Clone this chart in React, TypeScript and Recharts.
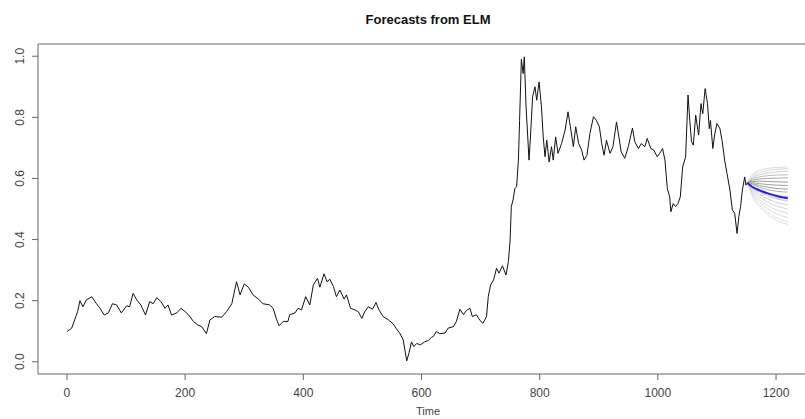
import { LineChart, Line, XAxis, YAxis, ReferenceArea } from "recharts";

// observed series (time index, value)
const histTime = [
  0, 8, 13, 18, 22, 27, 33, 42, 50, 56, 63, 70, 77, 84, 92, 101, 106, 112, 118, 125,
  133, 140, 146, 152, 159, 166, 171, 177, 186, 193, 200, 206, 214, 221, 228, 236, 242, 250, 262, 270,
  279, 287, 293, 300, 307, 315, 324, 332, 343, 349, 355, 359, 366, 374, 377, 386, 391, 397, 404, 411,
  417, 424, 428, 435, 440, 445, 451, 456, 462, 469, 473, 480, 487, 493, 499, 504, 510, 517, 523, 528,
  535, 544, 552, 558, 563, 569, 575, 579, 583, 587, 592, 598, 605, 612, 617, 621, 625, 631, 640, 645,
  654, 659, 665, 671, 676, 682, 686, 693, 699, 704, 710, 713, 717, 722, 727, 731, 737, 743, 747, 750,
  752, 755, 758, 761, 764, 766, 769, 772, 774, 777, 781, 782, 785, 788, 792, 795, 799, 803, 806, 809,
  812, 816, 820, 823, 827, 831, 837, 843, 848, 852, 857, 861, 866, 871, 875, 880, 885, 891, 896, 901,
  905, 909, 913, 919, 924, 930, 934, 938, 944, 950, 957, 961, 967, 972, 978, 982, 988, 993, 999, 1003,
  1008, 1012, 1016, 1020, 1022, 1026, 1030, 1034, 1038, 1042, 1047, 1051, 1054, 1057, 1060, 1064, 1069, 1073, 1076, 1080,
  1084, 1087, 1089, 1093, 1096, 1100, 1105, 1109, 1113, 1117, 1122, 1126, 1130, 1134, 1137, 1140, 1143, 1147, 1149, 1151,
];
const histValue = [
  0.099, 0.11, 0.137, 0.164, 0.2, 0.18, 0.203, 0.213, 0.19, 0.175, 0.153, 0.16, 0.19, 0.186, 0.16, 0.183, 0.18, 0.224, 0.203, 0.186,
  0.153, 0.197, 0.19, 0.21, 0.197, 0.175, 0.186, 0.153, 0.16, 0.175, 0.164, 0.153, 0.132, 0.121, 0.115, 0.092, 0.137, 0.148, 0.146, 0.164,
  0.19, 0.262, 0.219, 0.255, 0.244, 0.219, 0.205, 0.19, 0.186, 0.175, 0.137, 0.118, 0.132, 0.132, 0.154, 0.16, 0.175, 0.17, 0.213, 0.186,
  0.252, 0.273, 0.244, 0.288, 0.262, 0.27, 0.246, 0.213, 0.235, 0.205, 0.219, 0.175, 0.17, 0.164, 0.142, 0.164, 0.18, 0.172, 0.194, 0.17,
  0.148, 0.137, 0.124, 0.107, 0.094, 0.072, 0.003, 0.03, 0.065, 0.05, 0.06, 0.055, 0.065, 0.07, 0.08, 0.085, 0.099, 0.092, 0.094, 0.11,
  0.115, 0.132, 0.172, 0.154, 0.168, 0.175, 0.148, 0.154, 0.135, 0.126, 0.148, 0.213, 0.252, 0.268, 0.306, 0.29, 0.314, 0.284, 0.328, 0.399,
  0.508, 0.53, 0.567, 0.573, 0.66, 0.79, 0.99, 0.943, 0.998, 0.834, 0.693, 0.66, 0.758, 0.867, 0.9, 0.856, 0.916, 0.834, 0.736, 0.671,
  0.725, 0.654, 0.704, 0.66, 0.736, 0.682, 0.714, 0.758, 0.818, 0.769, 0.704, 0.769, 0.714, 0.693, 0.66, 0.676, 0.747, 0.802, 0.79, 0.769,
  0.714, 0.676, 0.725, 0.682, 0.704, 0.785, 0.736, 0.687, 0.666, 0.704, 0.765, 0.72, 0.698, 0.714, 0.704, 0.731, 0.698, 0.693, 0.671, 0.682,
  0.698, 0.66, 0.567, 0.54, 0.491, 0.518, 0.508, 0.518, 0.54, 0.638, 0.671, 0.873, 0.79, 0.72, 0.709, 0.807, 0.742, 0.845, 0.812, 0.894,
  0.845, 0.763, 0.79, 0.698, 0.742, 0.78, 0.763, 0.72, 0.66, 0.616, 0.562, 0.497, 0.486, 0.42, 0.475, 0.508, 0.562, 0.605, 0.578, 0.586,
];

// forecast horizon
const fcTime = [1151, 1160, 1172, 1186, 1202, 1220];
const fcMean = [0.586, 0.572, 0.561, 0.551, 0.542, 0.535];

// ensemble member paths
const fcMembers = [
  [0.586, 0.612, 0.626, 0.633, 0.636, 0.638],
  [0.586, 0.607, 0.619, 0.626, 0.63, 0.632],
  [0.586, 0.602, 0.612, 0.618, 0.622, 0.624],
  [0.586, 0.598, 0.605, 0.609, 0.611, 0.612],
  [0.586, 0.594, 0.598, 0.6, 0.601, 0.602],
  [0.586, 0.59, 0.591, 0.59, 0.589, 0.588],
  [0.586, 0.586, 0.583, 0.58, 0.578, 0.577],
  [0.586, 0.583, 0.577, 0.571, 0.567, 0.565],
  [0.586, 0.58, 0.571, 0.563, 0.558, 0.555],
  [0.586, 0.575, 0.564, 0.553, 0.545, 0.54],
  [0.586, 0.57, 0.556, 0.543, 0.533, 0.526],
  [0.586, 0.566, 0.548, 0.533, 0.521, 0.514],
  [0.586, 0.562, 0.54, 0.522, 0.509, 0.5],
  [0.586, 0.557, 0.532, 0.511, 0.496, 0.486],
  [0.586, 0.552, 0.524, 0.5, 0.483, 0.472],
  [0.586, 0.546, 0.514, 0.489, 0.47, 0.458],
  [0.586, 0.541, 0.507, 0.481, 0.462, 0.449],
];
const memberColors = [
  "#d9d9d9", "#d9d9d9", "#cfcfcf", "#bdbdbd", "#a8a8a8", "#9a9a9a", "#a0a0a0", "#9a9a9a", "#b0b0b0",
  "#bdbdbd", "#c8c8c8", "#cfcfcf", "#d4d4d4", "#d9d9d9", "#dcdcdc", "#dedede", "#e0e0e0",
];

const xTicks = [0, 200, 400, 600, 800, 1000, 1200];
const yTicks = [0, 0.2, 0.4, 0.6, 0.8, 1.0];

const FONT = "'Liberation Sans', Arial, sans-serif";

const histData = histTime.map((t, i) => ({ t, v: histValue[i] }));
const meanData = fcTime.map((t, i) => ({ t, v: fcMean[i] }));

const YTick = (props: any) => {
  const { x, y, payload } = props;
  const cx = x - 10;
  return (
    <text
      x={cx}
      y={y}
      transform={`rotate(-90, ${cx}, ${y})`}
      textAnchor="middle"
      dominantBaseline="central"
      fontSize={12}
      fontFamily={FONT}
      fill="#444"
    >
      {Number(payload.value).toFixed(1)}
    </text>
  );
};

const XTick = (props: any) => {
  const { x, y, payload } = props;
  return (
    <text x={x} y={y} dy="0.71em" textAnchor="middle" fontSize={12} fontFamily={FONT} fill="#444">
      {payload.value}
    </text>
  );
};

export default function App() {
  return (
    <div
      style={{
        position: "fixed",
        top: 0,
        left: 0,
        width: 805,
        height: 419,
        overflow: "hidden",
        background: "#fff",
      }}
    >
      <div
        style={{
          position: "absolute",
          left: 278,
          width: 300,
          top: 12,
          textAlign: "center",
          fontFamily: FONT,
          fontWeight: "bold",
          fontSize: 13,
          lineHeight: "16px",
          color: "#111",
        }}
      >
        Forecasts from ELM
      </div>
      <div
        style={{
          position: "absolute",
          left: 378,
          width: 100,
          top: 405,
          textAlign: "center",
          fontFamily: FONT,
          fontSize: 11,
          lineHeight: "13px",
          color: "#444",
        }}
      >
        Time
      </div>
      <div style={{ position: "absolute", left: 0, top: 0 }}>
        <LineChart width={840} height={419} margin={{ top: 44, right: 22, left: 0, bottom: 0 }}>
          <XAxis
            dataKey="t"
            type="number"
            domain={[-49, 1271]}
            ticks={xTicks}
            allowDataOverflow
            height={45}
            axisLine={false}
            tickLine={{ stroke: "#666" }}
            tickSize={6}
            tickMargin={8}
            tick={<XTick />}
          />
          <YAxis
            dataKey="v"
            type="number"
            domain={[-0.04, 1.04]}
            ticks={yTicks}
            allowDataOverflow
            width={38}
            axisLine={false}
            tickLine={{ stroke: "#666" }}
            tickSize={6}
            tick={<YTick />}
          />
          <ReferenceArea
            x1={-49}
            x2={1271}
            y1={-0.04}
            y2={1.04}
            fill="none"
            fillOpacity={0}
            stroke="#666"
            strokeWidth={1}
          />
          <Line
            data={histData}
            dataKey="v"
            type="linear"
            stroke="#111"
            strokeWidth={1}
            dot={false}
            isAnimationActive={false}
          />
          {fcMembers.map((m, k) => (
            <Line
              key={k}
              data={fcTime.map((t, i) => ({ t, v: m[i] }))}
              dataKey="v"
              type="monotone"
              stroke={memberColors[k]}
              strokeWidth={1}
              dot={false}
              isAnimationActive={false}
            />
          ))}
          <Line
            data={meanData}
            dataKey="v"
            type="monotone"
            stroke="#1f1fff"
            strokeWidth={2}
            dot={false}
            isAnimationActive={false}
          />
        </LineChart>
      </div>
    </div>
  );
}
